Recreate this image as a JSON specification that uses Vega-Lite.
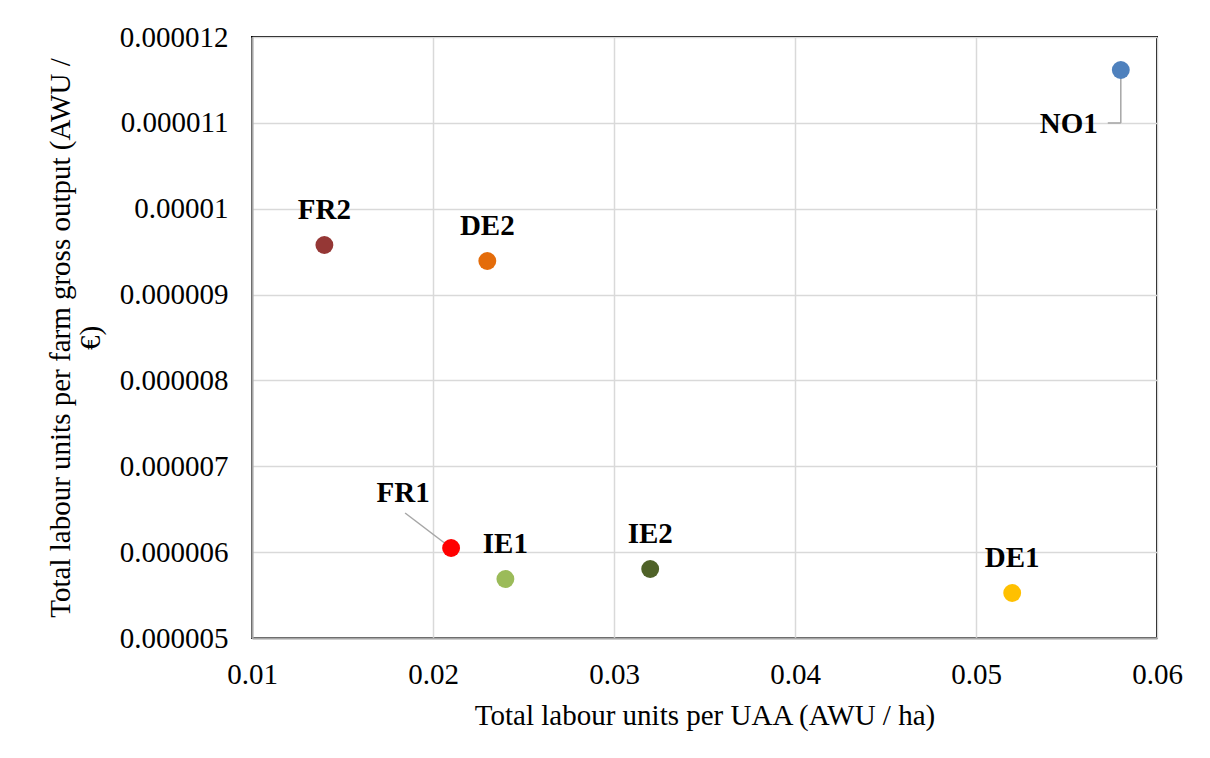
{
  "$schema": "https://vega.github.io/schema/vega-lite/v6.json",
  "width": 905,
  "height": 601,
  "autosize": "none",
  "padding": {"left": 252, "top": 37, "right": 53, "bottom": 120},
  "background": "white",
  "config": {
    "view": {"stroke": "#000000", "strokeWidth": 2},
    "font": "Liberation Serif",
    "axis": {
      "gridColor": "#D9D9D9",
      "gridWidth": 1.5,
      "domainColor": "#A6A6A6",
      "domainWidth": 2,
      "ticks": false,
      "labelFont": "Liberation Serif",
      "labelFontSize": 29,
      "labelColor": "#000000",
      "titleFont": "Liberation Serif",
      "titleFontSize": 29,
      "titleFontWeight": "normal",
      "titleColor": "#000000",
      "labelFlush": false,
      "labelOverlap": false
    }
  },
  "data": {
    "values": [
      {"label": "NO1", "x": 0.058, "y": 0.000011616},
      {"label": "FR2", "x": 0.014, "y": 0.000009577},
      {"label": "DE2", "x": 0.023, "y": 0.000009391},
      {"label": "FR1", "x": 0.021, "y": 0.000006048},
      {"label": "IE1", "x": 0.024, "y": 0.000005687},
      {"label": "IE2", "x": 0.032, "y": 0.000005804},
      {"label": "DE1", "x": 0.052, "y": 0.000005524}
    ]
  },
  "encoding": {
    "x": {
      "field": "x",
      "type": "quantitative",
      "scale": {"domain": [0.01, 0.06], "nice": false, "zero": false},
      "axis": {
        "title": "Total labour units per UAA (AWU / ha)",
        "values": [0.01, 0.02, 0.03, 0.04, 0.05, 0.06],
        "format": ".2f",
        "labelPadding": 22,
        "titlePadding": 12
      }
    },
    "y": {
      "field": "y",
      "type": "quantitative",
      "scale": {"domain": [0.000005, 0.000012], "nice": false, "zero": false},
      "axis": {
        "title": ["Total labour units per farm gross output (AWU /", "€)"],
        "titleLineHeight": 30,
        "values": [0.000005, 0.000006, 0.000007, 0.000008, 0.000009, 0.00001, 0.000011, 0.000012],
        "format": ".6~f",
        "labelPadding": 24,
        "titlePadding": 14
      }
    }
  },
  "layer": [
    {
      "transform": [{"filter": "datum.label === 'FR1'"}],
      "mark": {"type": "rule", "color": "#A6A6A6", "strokeWidth": 1.5, "x2Offset": -46, "y2Offset": -35},
      "encoding": {"x2": {"field": "x"}, "y2": {"field": "y"}}
    },
    {
      "transform": [{"filter": "datum.label === 'NO1'"}],
      "mark": {"type": "rule", "color": "#A6A6A6", "strokeWidth": 1.5, "y2Offset": 53},
      "encoding": {"y2": {"field": "y"}}
    },
    {
      "transform": [{"filter": "datum.label === 'NO1'"}],
      "mark": {"type": "rule", "color": "#A6A6A6", "strokeWidth": 1.5, "yOffset": 53, "x2Offset": -13},
      "encoding": {"x2": {"field": "x"}}
    },
    {
      "mark": {"type": "circle", "size": 320, "opacity": 1},
      "encoding": {
        "color": {
          "field": "label",
          "type": "nominal",
          "scale": {
            "domain": ["NO1", "FR2", "DE2", "FR1", "IE1", "IE2", "DE1"],
            "range": ["#4F81BD", "#953735", "#E46C0A", "#FF0000", "#9BBB59", "#4F6228", "#FFC000"]
          },
          "legend": null
        }
      }
    },
    {
      "transform": [{"filter": "datum.label !== 'FR1' && datum.label !== 'NO1'"}],
      "mark": {"type": "text", "font": "Liberation Serif", "fontWeight": "bold", "fontSize": 29, "color": "#000000", "dy": -35, "align": "center", "baseline": "middle"},
      "encoding": {"text": {"field": "label"}}
    },
    {
      "transform": [{"filter": "datum.label === 'FR1'"}],
      "mark": {"type": "text", "font": "Liberation Serif", "fontWeight": "bold", "fontSize": 29, "color": "#000000", "dx": -48, "dy": -55, "align": "center", "baseline": "middle"},
      "encoding": {"text": {"field": "label"}}
    },
    {
      "transform": [{"filter": "datum.label === 'NO1'"}],
      "mark": {"type": "text", "font": "Liberation Serif", "fontWeight": "bold", "fontSize": 29, "color": "#000000", "dx": -52, "dy": 54, "align": "center", "baseline": "middle"},
      "encoding": {"text": {"field": "label"}}
    }
  ]
}
